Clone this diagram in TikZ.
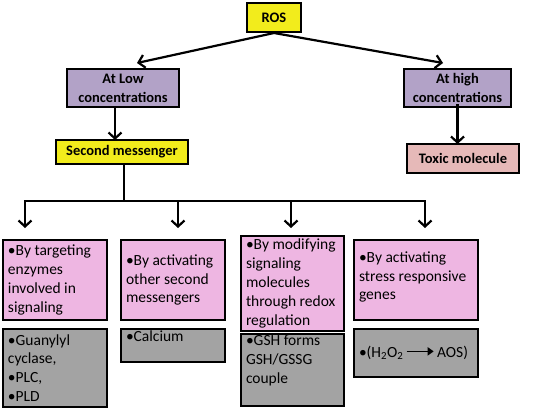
\documentclass[tikz,border=0pt]{standalone}
\usepackage{fontspec}
\setmainfont{Carlito}
\usetikzlibrary{arrows.meta}
\definecolor{rosyellow}{RGB}{242,236,28}
\definecolor{lavender}{RGB}{178,162,199}
\definecolor{toxicpink}{RGB}{230,185,184}
\definecolor{mauve}{RGB}{238,182,226}
\definecolor{greybox}{RGB}{163,163,163}
\newcommand{\boxcontent}[4]{\parbox[c][#1][#2]{#3}{\raggedright #4}}
\begin{document}
\begin{tikzpicture}[x=1pt,y=-1pt,
  frame/.style={draw=black,line width=2pt,inner sep=0pt},
  topbox/.style={frame,align=center,font=\fontsize{14.5}{19}\selectfont\bfseries},
  lowbox/.style={frame,inner xsep=5pt,inner ysep=0pt,font=\fontsize{15.5}{18.8}\selectfont},
  arr/.style={line width=2.2pt,-{Straight Barb[length=6pt,width=13pt,line width=2.2pt]}},
  conn/.style={line width=2.2pt}]
\useasboundingbox (0,0) rectangle (553,409);

% top level
\node[topbox,fill=rosyellow,minimum width=54pt,minimum height=29pt] (ros) at (274,17.5) {ROS};
\node[topbox,fill=lavender,minimum width=112pt,minimum height=38pt] (low) at (123,88) {At Low\\concentrations};
\node[topbox,fill=lavender,minimum width=107pt,minimum height=38pt] (high) at (457.5,88) {At high\\concentrations};
\node[topbox,fill=rosyellow,minimum width=132pt,minimum height=24pt] (sm) at (122,152) {Second messenger};
\node[topbox,fill=toxicpink,minimum width=112pt,minimum height=29pt] (tox) at (463,158.5) {Toxic molecule};

\coordinate (lowtip) at (137,63);
\coordinate (hightip) at (443,63);
\draw[arr] (ros.south) -- (lowtip);
\draw[arr] (ros.south) -- (hightip);
\draw[arr] ([xshift=-8pt]low.south) -- ([xshift=-8pt,yshift=-1pt]low.south |- sm.north);
\draw[arr] ([yshift=4pt]high.south) -- ([yshift=-1pt]tox.north -| high.south);

% pink row
\node[lowbox,fill=mauve] (p1) at (55,280) {\boxcontent{80pt}{c}{94pt}{•By targeting enzymes involved in signaling}};
\node[lowbox,fill=mauve] (p2) at (173,280) {\boxcontent{80pt}{c}{94pt}{•By activating other second messengers}};
\node[lowbox,fill=mauve] (p3) at (292.5,283.5) {\boxcontent{95pt}{c}{93pt}{•By modifying signaling molecules through redox regulation}};
\node[lowbox,fill=mauve] (p4) at (416,280) {\boxcontent{80pt}{c}{114pt}{•By activating stress responsive genes\\[6pt]}};

% grey row
\node[lowbox,fill=greybox] (g1) at (55,368) {\boxcontent{78pt}{c}{94pt}{•Guanylyl cyclase,\\•PLC,\\•PLD}};
\node[lowbox,fill=greybox] (g2) at (173,345.5) {\boxcontent{33pt}{t}{94pt}{\vspace{2pt}•Calcium}};
\node[lowbox,fill=greybox] (g3) at (292.5,370) {\boxcontent{72pt}{t}{93pt}{\vspace{1pt}•GSH forms GSH/GSSG couple}};
\node[lowbox,fill=greybox] (g4) at (416,353) {\boxcontent{48pt}{c}{114pt}{•(H\textsubscript{2}O\textsubscript{2}\,\raisebox{0.3ex}{\tikz\draw[line width=1.6pt,-{Triangle[length=6pt,width=8pt]}] (0,0) -- (27pt,0);}\,AOS)}};

% bus
\coordinate (bus) at (124,201);
\draw[conn] (sm.south -| bus) -- (bus);
\coordinate (busL) at (23.9,201);
\coordinate (busR) at (426.1,201);
\draw[conn] (busL) -- (busR);
\coordinate (t1) at (25,228);
\coordinate (t2) at (178,228);
\coordinate (t3) at (291,228);
\coordinate (t4) at (425,228);
\draw[arr] (t1 |- busL) -- (t1);
\draw[arr] (t2 |- busL) -- (t2);
\draw[arr] (t3 |- busL) -- (t3);
\draw[arr] (t4 |- busL) -- (t4);
\end{tikzpicture}
\end{document}
